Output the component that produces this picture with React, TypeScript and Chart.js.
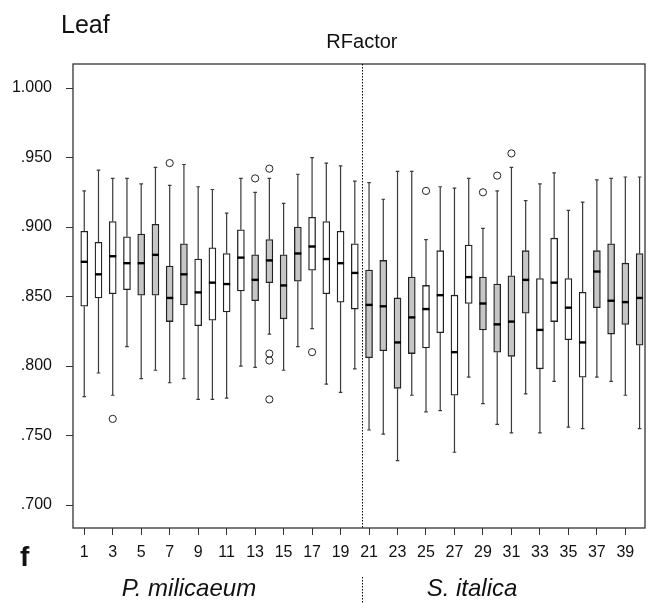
import React, { useEffect, useRef } from "react";
import { Chart, registerables } from "chart.js";

Chart.register(...registerables);

const categories = [
  1, 2, 3, 4, 5, 6, 7, 8, 9, 10, 11, 12, 13, 14, 15, 16, 17, 18, 19, 20,
  21, 22, 23, 24, 25, 26, 27, 28, 29, 30, 31, 32, 33, 34, 35, 36, 37, 38, 39, 40,
];

const whiskerHigh = [
  0.926, 0.941, 0.935, 0.935, 0.931, 0.943, 0.930, 0.945, 0.929, 0.927,
  0.910, 0.935, 0.925, 0.935, 0.917, 0.938, 0.950, 0.946, 0.944, 0.933,
  0.932, 0.920, 0.940, 0.940, 0.891, 0.929, 0.928, 0.935, 0.899, 0.926,
  0.943, 0.919, 0.931, 0.939, 0.912, 0.918, 0.934, 0.935, 0.936, 0.936,
];
const q3 = [
  0.897, 0.889, 0.904, 0.893, 0.895, 0.902, 0.872, 0.888, 0.877, 0.885,
  0.881, 0.898, 0.880, 0.891, 0.880, 0.900, 0.907, 0.904, 0.897, 0.888,
  0.869, 0.876, 0.849, 0.864, 0.858, 0.883, 0.851, 0.887, 0.864, 0.859,
  0.865, 0.883, 0.863, 0.892, 0.863, 0.853, 0.883, 0.888, 0.874, 0.881,
];
const medians = [
  0.875, 0.866, 0.879, 0.874, 0.874, 0.880, 0.849, 0.866, 0.853, 0.860,
  0.859, 0.878, 0.862, 0.876, 0.858, 0.881, 0.886, 0.877, 0.874, 0.867,
  0.844, 0.843, 0.817, 0.835, 0.841, 0.851, 0.810, 0.864, 0.845, 0.830,
  0.832, 0.862, 0.826, 0.860, 0.842, 0.817, 0.868, 0.847, 0.846, 0.849,
];
const q1 = [
  0.843, 0.849, 0.852, 0.855, 0.851, 0.851, 0.832, 0.844, 0.829, 0.833,
  0.839, 0.854, 0.847, 0.860, 0.834, 0.861, 0.869, 0.852, 0.846, 0.841,
  0.806, 0.811, 0.784, 0.809, 0.813, 0.824, 0.779, 0.845, 0.826, 0.810,
  0.807, 0.838, 0.798, 0.832, 0.819, 0.792, 0.842, 0.823, 0.830, 0.815,
];
const whiskerLow = [
  0.778, 0.795, 0.779, 0.814, 0.791, 0.797, 0.788, 0.791, 0.776, 0.776,
  0.777, 0.800, 0.799, 0.823, 0.797, 0.814, 0.827, 0.787, 0.781, 0.798,
  0.754, 0.751, 0.732, 0.779, 0.767, 0.768, 0.738, 0.792, 0.773, 0.758,
  0.752, 0.780, 0.752, 0.789, 0.756, 0.755, 0.792, 0.789, 0.779, 0.755,
];

// outliers: category and value
const outlierCategory = [3, 7, 13, 14, 14, 14, 14, 17, 25, 29, 30, 31];
const outlierValue = [0.762, 0.946, 0.935, 0.942, 0.809, 0.804, 0.776, 0.810, 0.926, 0.925, 0.937, 0.953];

const xTicks = [1, 3, 5, 7, 9, 11, 13, 15, 17, 19, 21, 23, 25, 27, 29, 31, 33, 35, 37, 39];
const xTickLabels = ["1", "3", "5", "7", "9", "11", "13", "15", "17", "19", "21", "23", "25", "27", "29", "31", "33", "35", "37", "39"];
const yTicks = [0.7, 0.75, 0.8, 0.85, 0.9, 0.95, 1.0];
const yTickLabels = [".700", ".750", ".800", ".850", ".900", ".950", "1.000"];

const groupNames = ["P. milicaeum", "S. italica"];
const separatorAt = 20.5;

const FONT = "'Liberation Sans', Arial, Helvetica, sans-serif";

const boxFill = (i: number) => (Math.floor(i / 4) % 2 === 1 ? "#c6c6c6" : "#ffffff");

const extrasPlugin = {
  id: "boxExtras",
  beforeDatasetsDraw(chart: any) {
    const { ctx, scales } = chart;
    const x = scales.x;
    const y = scales.y;
    ctx.save();
    ctx.strokeStyle = "#3a3a3a";
    ctx.lineWidth = 1.2;
    categories.forEach((c, i) => {
      const px = x.getPixelForValue(c);
      const yHi = y.getPixelForValue(whiskerHigh[i]);
      const yLo = y.getPixelForValue(whiskerLow[i]);
      ctx.beginPath();
      ctx.moveTo(px, yHi);
      ctx.lineTo(px, y.getPixelForValue(q3[i]));
      ctx.moveTo(px, y.getPixelForValue(q1[i]));
      ctx.lineTo(px, yLo);
      ctx.moveTo(px - 1.8, yHi);
      ctx.lineTo(px + 1.8, yHi);
      ctx.moveTo(px - 1.8, yLo);
      ctx.lineTo(px + 1.8, yLo);
      ctx.stroke();
    });
    ctx.restore();
  },
  afterDatasetsDraw(chart: any) {
    const { ctx, scales } = chart;
    const x = scales.x;
    const y = scales.y;
    ctx.save();
    ctx.strokeStyle = "#000";
    ctx.lineWidth = 2.4;
    categories.forEach((c, i) => {
      const px = x.getPixelForValue(c);
      const py = y.getPixelForValue(medians[i]);
      ctx.beginPath();
      ctx.moveTo(px - 3.5, py);
      ctx.lineTo(px + 3.5, py);
      ctx.stroke();
    });
    ctx.restore();
  },
  afterDraw(chart: any) {
    const { ctx, chartArea, scales } = chart;
    const x = scales.x;
    const sx = x.getPixelForValue(separatorAt);
    ctx.save();
    // frame
    ctx.strokeStyle = "#333";
    ctx.lineWidth = 1.3;
    ctx.strokeRect(chartArea.left, chartArea.top, chartArea.right - chartArea.left, chartArea.bottom - chartArea.top);
    // separator
    ctx.strokeStyle = "#000";
    ctx.lineWidth = 1;
    ctx.setLineDash([1.5, 1.5]);
    ctx.beginPath();
    ctx.moveTo(Math.round(sx) + 0.5, chartArea.top);
    ctx.lineTo(Math.round(sx) + 0.5, chartArea.bottom);
    ctx.moveTo(Math.round(sx) + 0.5, 577);
    ctx.lineTo(Math.round(sx) + 0.5, 603);
    ctx.stroke();
    ctx.setLineDash([]);
    // texts
    ctx.fillStyle = "#111";
    ctx.textBaseline = "alphabetic";
    ctx.textAlign = "left";
    ctx.font = `25px ${FONT}`;
    ctx.fillText("Leaf", 61, 33);
    ctx.textAlign = "center";
    ctx.font = `20px ${FONT}`;
    ctx.fillText("RFactor", sx, 48);
    ctx.font = `bold 28px ${FONT}`;
    ctx.textAlign = "left";
    ctx.fillText("f", 20, 566);
    ctx.font = `italic 24px ${FONT}`;
    ctx.textAlign = "center";
    ctx.fillText(groupNames[0], 189, 596);
    ctx.fillText(groupNames[1], 472, 596);
    ctx.restore();
  },
};

export default function App() {
  const ref = useRef<HTMLCanvasElement | null>(null);

  useEffect(() => {
    document.body.style.margin = "0";
    const canvas = ref.current;
    if (!canvas) return;
    const chart = new Chart(canvas, {
      type: "bar",
      data: {
        datasets: [
          {
            type: "bar",
            data: categories.map((c, i) => ({ x: c, y: [q1[i], q3[i]] })) as any,
            backgroundColor: categories.map((_, i) => boxFill(i)),
            borderColor: "#222",
            borderWidth: 1.3,
            borderSkipped: false,
            barThickness: 7,
            order: 2,
          } as any,
          {
            type: "scatter",
            data: outlierCategory.map((c, i) => ({ x: c, y: outlierValue[i] })),
            pointRadius: 3.6,
            pointBorderWidth: 1,
            pointBackgroundColor: "rgba(255,255,255,0)",
            pointBorderColor: "#222",
            order: 1,
          } as any,
        ],
      },
      options: {
        animation: false,
        responsive: false,
        devicePixelRatio: 1,
        layout: { padding: { top: 64, right: 1, left: 0, bottom: 0 } },
        plugins: { legend: { display: false }, tooltip: { enabled: false }, title: { display: false } },
        scales: {
          x: {
            type: "linear",
            min: 0.21,
            max: 40.38,
            offset: false,
            grid: { display: true, drawOnChartArea: false, drawTicks: true, tickLength: 7, color: "#333", offset: false },
            border: { display: false },
            afterBuildTicks: (scale: any) => {
              scale.ticks = xTicks.map((v) => ({ value: v }));
            },
            afterFit: (scale: any) => {
              scale.height = 75;
            },
            ticks: {
              autoSkip: false,
              maxRotation: 0,
              padding: 8,
              color: "#111",
              font: { family: FONT, size: 16 },
              callback: (_v: any, idx: number) => xTickLabels[idx],
            },
          },
          y: {
            type: "linear",
            min: 0.6835,
            max: 1.0173,
            beginAtZero: false,
            grid: { display: true, drawOnChartArea: false, drawTicks: true, tickLength: 7, color: "#333" },
            border: { display: false },
            afterBuildTicks: (scale: any) => {
              scale.ticks = yTicks.map((v) => ({ value: v }));
            },
            afterFit: (scale: any) => {
              scale.width = 73;
            },
            ticks: {
              padding: 14,
              color: "#111",
              font: { family: FONT, size: 16 },
              callback: (_v: any, idx: number) => yTickLabels[idx],
            },
          },
        },
      } as any,
      plugins: [extrasPlugin],
    });
    return () => chart.destroy();
  }, []);

  return (
    <div style={{ position: "fixed", left: 0, top: 0, width: 650, height: 603, background: "#fff" }}>
      <canvas ref={ref} width={650} height={603} style={{ display: "block", width: 650, height: 603 }} />
    </div>
  );
}
